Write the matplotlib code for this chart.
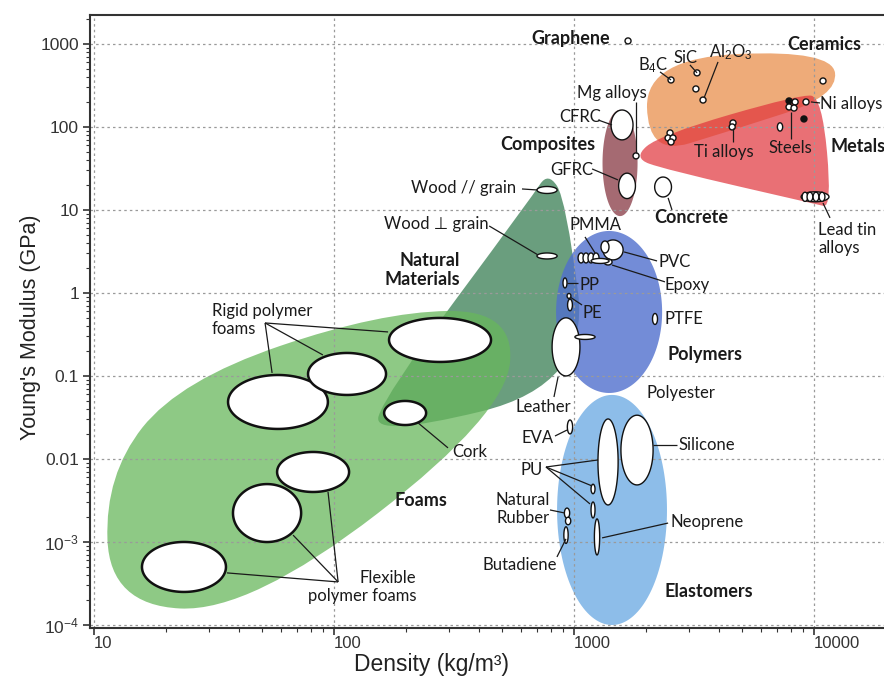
import numpy as np
import matplotlib
matplotlib.use('Agg')
import matplotlib.pyplot as plt
from matplotlib.path import Path
from matplotlib.patches import PathPatch
from matplotlib.ticker import FixedLocator, LogLocator, NullFormatter, FixedFormatter

plt.rcParams['mathtext.fontset'] = 'custom'
plt.rcParams['mathtext.rm'] = 'Liberation Sans'
plt.rcParams['mathtext.it'] = 'Liberation Sans:italic'
plt.rcParams['mathtext.bf'] = 'Liberation Sans:bold'

LABEL_FONT = ['Lato', 'DejaVu Sans']
AXIS_FONT = ['Liberation Sans', 'DejaVu Sans']

# ---------------- data (density kg/m3, modulus GPa) ----------------
# family envelopes: control polygons (smoothed corners)
foam_env_density = [11.66, 44.7, 515.8, 567.7, 155.5, 22.8, 11.1]
foam_env_modulus = [1.74e-4, 1.435e-4, 0.0339, 0.624, 0.590, 0.0895, 0.00641]
natural_env_density = [779, 926, 1166, 144, 163, 668]
natural_env_modulus = [28.7, 13.2, 0.078, 0.0179, 0.059, 14.4]
ceramics_env_density = [1995, 11885, 12590, 4467, 2033]
ceramics_env_modulus = [678, 847, 236, 89.5, 44.8]
metals_env_density = [1762, 2282, 8742, 10800, 11885, 10100, 2393]
metals_env_modulus = [42.4, 80.2, 247, 229.6, 10.6, 11.8, 30.8]

# elliptical family envelopes: centre and half-size in decades
family_names = ['Polymers', 'Elastomers', 'Composites']
family_density = [1400, 1440, 1555]
family_modulus = [0.590, 0.00243, 36.8]
family_halfwidth = [0.221, 0.229, 0.073]
family_halfheight = [0.976, 1.386, 0.64]
family_colors = ['#506fcd', '#8dbde9', '#a56a72']
family_alpha = [0.8, 1.0, 1.0]

# material bubbles: centre and half-size in decades
bubble_density = [58.4, 113.3, 276.5, 197.8, 81.8, 52.6, 23.7,
                  772, 772,
                  1070, 1122, 1177, 1235, 1454, 1346, 1386, 1284,
                  917, 953, 962, 2175, 926, 1111,
                  962, 1386, 1830, 1200, 1200, 1247, 935, 945, 926,
                  1585, 1663, 2350, 10100]
bubble_modulus = [0.0486, 0.1057, 0.2716, 0.0358, 0.00697, 0.00223, 5.0e-4,
                  17.4, 2.79,
                  2.64, 2.64, 2.64, 2.64, 3.30, 3.58, 2.36, 2.43,
                  1.32, 0.92, 0.717, 0.486, 0.224, 0.295,
                  0.0243, 0.0092, 0.0128, 0.00435, 0.00243, 0.00115, 0.00223, 0.00179, 0.00121,
                  105.7, 19.5, 18.9, 14.4]
bubble_halfwidth = [0.208, 0.1625, 0.2125, 0.0875, 0.15, 0.142, 0.175,
                    0.042, 0.042,
                    0.0125, 0.0125, 0.0125, 0.0125, 0.042, 0.0167, 0.0167, 0.0375,
                    0.0083, 0.008, 0.01, 0.0104, 0.058, 0.042,
                    0.011, 0.042, 0.067, 0.0083, 0.0083, 0.011, 0.011, 0.011, 0.009,
                    0.0458, 0.035, 0.035, 0.058]
bubble_halfheight = [0.325, 0.253, 0.265, 0.145, 0.241, 0.349, 0.301,
                     0.042, 0.036,
                     0.06, 0.06, 0.06, 0.06, 0.12, 0.072, 0.036, 0.03,
                     0.06, 0.03, 0.07, 0.066, 0.35, 0.03,
                     0.084, 0.518, 0.42, 0.057, 0.096, 0.217, 0.06, 0.045, 0.1,
                     0.18, 0.153, 0.12, 0.06]
bubble_lw = [1.8] * 7 + [1.0] * 29

# small point-like materials (circles), face colour
dot_density = [1679, 1813, 2536, 3255, 3220, 3448, 10900,
               2512, 2466, 2585, 2536, 4597, 4560,
               7870, 8340, 7870, 8254, 9260, 9080, 7216,
               9173, 9616, 10190, 10800]
dot_modulus = [1087, 44.8, 368, 448, 287, 211, 358,
               84.7, 73.6, 73.6, 65.9, 111.7, 100,
               205.6, 200, 174, 169, 200, 124.8, 100,
               14.4, 14.4, 14.4, 14.4]
dot_face = ['white'] * 13 + ['#111111', 'white', 'white', 'white', 'white', '#111111', 'white',
                             'white', 'white', 'white', 'white']
dot_halfheight = [0.036] * 19 + [0.05] + [0.055] * 4
dot_halfwidth = [0.0125] * 19 + [0.011] + [0.012] * 4

# text labels
label_text = ['Graphene', 'B$_4$C', 'SiC', 'Al$_2$O$_3$', 'Ceramics', 'Mg alloys', 'CFRC', 'GFRC',
              'Composites', 'Concrete', 'Ti alloys', 'Steels', 'Ni alloys', 'Metals',
              'Lead tin\nalloys', 'Wood // grain', 'Wood \u22a5 grain', 'Natural\nMaterials',
              'Rigid polymer\nfoams', 'Cork', 'Foams', 'Flexible\npolymer foams',
              'PMMA', 'PVC', 'Epoxy', 'PP', 'PE', 'PTFE', 'Polymers', 'Leather', 'Polyester',
              'EVA', 'Silicone', 'PU', 'Natural\nRubber', 'Butadiene', 'Neoprene', 'Elastomers']
label_density = [972, 2135, 2901, 4508, 11010, 1440, 1059, 981,
                 779, 3073, 4217, 7943, 10590, 11660,
                 10390, 348, 266, 335,
                 31.0, 310, 230, 220,
                 1224, 2239, 2393, 1059, 1080, 2393, 2441, 743, 2014,
                 708, 2712, 668, 613, 596, 2512, 2393]
label_modulus = [1148, 559, 678, 801, 972, 257, 131.9, 30.3,
                 60.7, 8.02, 50.0, 55.8, 189, 57.4,
                 4.48, 18.4, 6.78, 1.89,
                 0.473, 0.01213, 0.0032, 2.87e-4,
                 6.59, 2.36, 1.25, 1.25, 0.574, 0.486, 0.179, 0.0424, 0.0624,
                 0.0179, 0.01476, 7.36e-3, 2.5e-3, 5.28e-4, 1.74e-3, 2.5e-4]
label_ha = ['center', 'center', 'center', 'center', 'center', 'center', 'center', 'center',
            'center', 'center', 'center', 'center', 'left', 'left',
            'left', 'center', 'center', 'right',
            'left', 'left', 'center', 'right',
            'center', 'left', 'left', 'left', 'left', 'left', 'left', 'center', 'left',
            'center', 'left', 'center', 'center', 'center', 'left', 'left']
label_bold = {'Graphene', 'Ceramics', 'Composites', 'Concrete', 'Metals', 'Natural\nMaterials',
              'Foams', 'Polymers', 'Elastomers'}

# leader lines (from label to material)
leader_x0 = [2282, 3040, 3981, 1813, 1259, 1189, 2466, 4597, 8017, 9716, 10900, 607, 443,
             51.6, 51.6, 51.6, 224, 104, 104, 104, 1111, 1616, 1440, 935, 962, 858,
             833, 2135, 764, 764, 764, 794, 849, 1309]
leader_y0 = [460, 559, 607, 200, 121.4, 31.2, 13.97, 97.3, 151.7, 200, 12.1, 17.9, 6.41,
             0.435, 0.435, 0.435, 0.0272, 3.3e-4, 3.3e-4, 3.3e-4, 4.73, 3.12, 2.17, 1.32, 0.895, 0.0973,
             0.0189, 0.01476, 8.0e-3, 8.0e-3, 8.0e-3, 2.43e-3, 6.6e-4, 1.12e-3]
leader_x1 = [2536, 3255, 3481, 1813, 1440, 1525, 2560, 4597, 8017, 10590, 11660, 702, 708,
             55.2, 89.9, 168, 298.5, 35.8, 67.5, 94.4, 1224, 2218, 2393, 1040, 1080, 825,
             935, 2685, 1259, 1189, 1166, 917, 926, 2466]
leader_y1 = [368, 448, 223, 48.6, 105.7, 23.0, 10.0, 65.9, 71.6, 194.5, 8.02, 17.4, 2.87,
             0.1087, 0.179, 0.339, 0.0136, 4.24e-4, 1.21e-3, 4.0e-3, 3.03, 2.43, 1.36, 1.32, 0.716, 0.0558,
             0.0223, 0.01476, 9.73e-3, 4.73e-3, 2.87e-3, 2.23e-3, 1.09e-3, 1.69e-3]

x_ticks = [10, 100, 1000, 10000]
x_ticklabels = ['10', '100', '1000', '10000']
y_ticks = [1e-4, 1e-3, 1e-2, 1e-1, 1, 10, 100, 1000]
y_ticklabels = ['$\\mathregular{10^{-4}}$', '$\\mathregular{10^{-3}}$', '0.01', '0.1', '1', '10', '100', '1000']


# ---------------- helpers ----------------
def envelope(ax, dens, mod, color, alpha, z):
    lx = np.log10(dens)
    ly = np.log10(mod)
    n = len(lx)
    mids = [((lx[i] + lx[(i + 1) % n]) / 2, (ly[i] + ly[(i + 1) % n]) / 2) for i in range(n)]
    verts = [mids[-1]]
    codes = [Path.MOVETO]
    for i in range(n):
        verts += [(lx[i], ly[i]), mids[i]]
        codes += [Path.CURVE3, Path.CURVE3]
    verts.append(mids[-1])
    codes.append(Path.CLOSEPOLY)
    verts = 10 ** np.array(verts)
    ax.add_patch(PathPatch(Path(verts, codes), facecolor=color, edgecolor='none',
                           alpha=alpha, zorder=z))


def log_ellipse(ax, x, y, hw, hh, face, edge, lw, z, alpha=1.0):
    t = np.linspace(0, 2 * np.pi, 140)
    xs = 10 ** (np.log10(x) + hw * np.cos(t))
    ys = 10 ** (np.log10(y) + hh * np.sin(t))
    ax.fill(xs, ys, facecolor=face, edgecolor=edge, lw=lw, zorder=z, alpha=alpha)


# ---------------- figure ----------------
fig = plt.figure(figsize=(8.84, 6.8), dpi=100)
ax = fig.add_axes([0.1018, 0.0765, 0.8982, 0.9015])
ax.set_xscale('log')
ax.set_yscale('log')

envelope(ax, natural_env_density, natural_env_modulus, '#6a9e7e', 1.0, 1.0)
envelope(ax, foam_env_density, foam_env_modulus, '#68b75c', 0.75, 1.1)
for i in range(len(family_names)):
    log_ellipse(ax, family_density[i], family_modulus[i], family_halfwidth[i],
                family_halfheight[i], family_colors[i], 'none', 0, 1.2, family_alpha[i])
envelope(ax, ceramics_env_density, ceramics_env_modulus, '#eeab79', 1.0, 1.3)
envelope(ax, metals_env_density, metals_env_modulus, '#e0333b', 0.7, 1.4)

for i in range(len(bubble_density)):
    log_ellipse(ax, bubble_density[i], bubble_modulus[i], bubble_halfwidth[i],
                bubble_halfheight[i], 'white', '#111111', bubble_lw[i], 3)
for i in range(len(dot_density)):
    log_ellipse(ax, dot_density[i], dot_modulus[i], dot_halfwidth[i], dot_halfheight[i],
                dot_face[i], '#111111', 1.0, 3.2)

for i in range(len(leader_x0)):
    ax.plot([leader_x0[i], leader_x1[i]], [leader_y0[i], leader_y1[i]],
            color='#1a1a1a', lw=0.9, zorder=3.5, solid_capstyle='butt')

for i, txt in enumerate(label_text):
    bold = txt in label_bold
    ax.text(label_density[i], label_modulus[i], txt, ha=label_ha[i], va='center',
            multialignment=label_ha[i], family=LABEL_FONT,
            fontsize=13 if bold else 12, fontweight='bold' if bold else 'normal',
            color='#1a1a1a', linespacing=1.2, zorder=5)

ax.set_xlim(9.62, 19570)
ax.set_ylim(9.2e-5, 2234)

ax.xaxis.set_major_locator(FixedLocator(x_ticks))
ax.xaxis.set_major_formatter(FixedFormatter(x_ticklabels))
ax.yaxis.set_major_locator(FixedLocator(y_ticks))
ax.yaxis.set_major_formatter(FixedFormatter(y_ticklabels))
ax.xaxis.set_minor_locator(LogLocator(base=10, subs=np.arange(2, 10)))
ax.yaxis.set_minor_locator(LogLocator(base=10, subs=np.arange(2, 10)))
ax.xaxis.set_minor_formatter(NullFormatter())
ax.yaxis.set_minor_formatter(NullFormatter())

ax.set_axisbelow('line')
ax.grid(True, which='major', color='#9a9a9a', lw=0.9, ls=(0, (2, 2.5)))
ax.tick_params(which='major', direction='out', length=5, width=1.2, color='#333333',
               labelsize=12.5, labelcolor='#333333', pad=3)
ax.tick_params(axis='x', which='major', pad=1, labelsize=12)
ax.tick_params(which='minor', direction='out', length=3, width=0.8, color='#333333')
for lab in ax.get_xticklabels():
    lab.set_ha('left')
    lab.set_family(AXIS_FONT)
for lab in ax.get_yticklabels():
    lab.set_family(AXIS_FONT)

for s in ['left', 'bottom', 'top']:
    ax.spines[s].set_linewidth(1.5)
    ax.spines[s].set_color('#333333')
ax.spines['right'].set_visible(False)

ax.set_xlabel('Density (kg/m\u00b3)', fontsize=16.5, family=AXIS_FONT, color='#222222')
ax.set_ylabel("Young's Modulus (GPa)", fontsize=15.5, family=AXIS_FONT, color='#222222')
ax.xaxis.set_label_coords(0.43, -0.0415)
ax.yaxis.set_label_coords(-0.062, 0.49)

fig.savefig('out.png', dpi=100)
